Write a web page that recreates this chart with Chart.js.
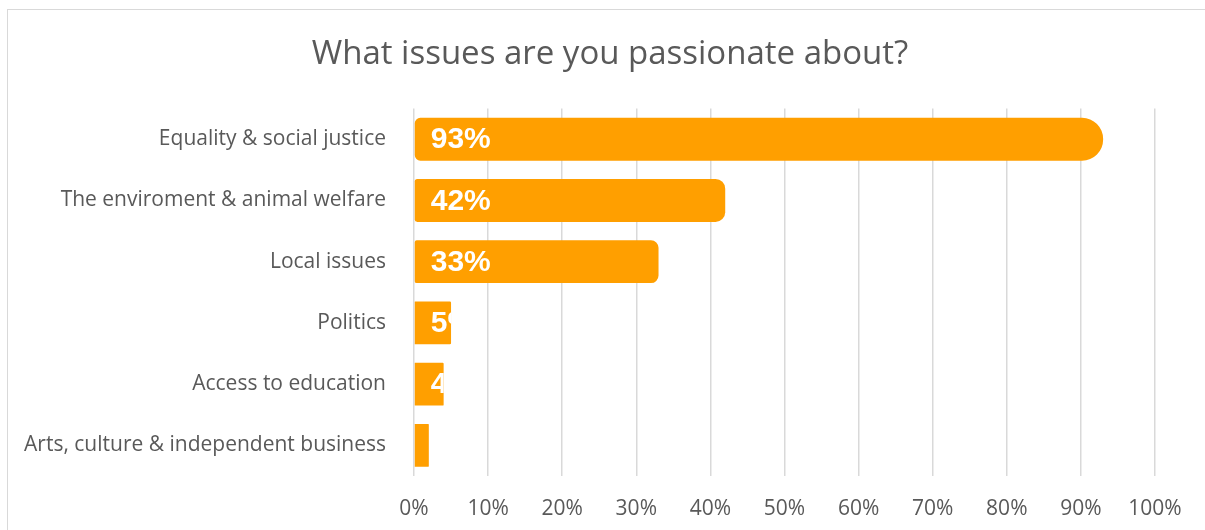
<!DOCTYPE html>
<html>
<head>
<meta charset="utf-8">
<script src="https://cdn.jsdelivr.net/npm/chart.js@4/dist/chart.umd.min.js"></script>
<style>
  html, body { margin: 0; padding: 0; background: #fff; }
  #wrap { position: relative; width: 1205px; height: 530px; overflow: hidden; }
  #frame { position: absolute; left: 7px; top: 9px; width: 1230px; height: 560px;
           border: 1.5px solid #d9d9d9; box-sizing: border-box; }
  #c { position: absolute; left: 0; top: 0; }
</style>
</head>
<body>
<div id="wrap">
  <div id="frame"></div>
  <canvas id="c" width="1205" height="530"></canvas>
</div>
<script>
const categories = [
  'Equality & social justice',
  'The enviroment & animal welfare',
  'Local issues',
  'Politics',
  'Access to education',
  'Arts, culture & independent business'
];
const percentValues = [93, 42, 33, 5, 4, 2];
const tickValues = [0, 10, 20, 30, 40, 50, 60, 70, 80, 90, 100];
const chartTitle = 'What issues are you passionate about?';

const FONT = '"Open Sans", Lato, sans-serif';
const GREY = '#595959';

// White value labels drawn from the start of each bar, clipped to the bar itself
const barValueLabels = {
  id: 'barValueLabels',
  afterDatasetsDraw(chart) {
    const ctx = chart.ctx;
    const meta = chart.getDatasetMeta(0);
    meta.data.forEach((bar, i) => {
      const p = bar.getProps(['x', 'y', 'base', 'height'], true);
      const left = Math.min(p.base, p.x);
      const width = Math.abs(p.x - p.base);
      ctx.save();
      ctx.beginPath();
      ctx.rect(left, p.y - p.height / 2, width, p.height);
      ctx.clip();
      ctx.fillStyle = '#ffffff';
      ctx.font = 'bold 30px "Liberation Sans", Arial, sans-serif';
      ctx.textAlign = 'left';
      ctx.textBaseline = 'middle';
      ctx.fillText(percentValues[i] + '%', left + 16, p.y + 1);
      ctx.restore();
    });
  }
};

// Centre the title over the whole frame rather than the padded layout box
const titleCentering = {
  id: 'titleCentering',
  afterLayout(chart) {
    if (chart.titleBlock) {
      chart.titleBlock.left = 65;
      chart.titleBlock.right = 1155;
    }
  }
};

new Chart(document.getElementById('c'), {
  type: 'bar',
  data: {
    labels: categories,
    datasets: [{
      data: percentValues,
      backgroundColor: '#FF9F00',
      borderSkipped: false,
      borderRadius: (ctx) => {
        const v = ctx.raw || 0;
        const r = Math.min(21, v * 0.23);
        const l = Math.min(6, v * 0.06);
        return { topLeft: l, bottomLeft: l, topRight: r, bottomRight: r };
      },
      barPercentage: 0.7,
      categoryPercentage: 1.0
    }]
  },
  options: {
    indexAxis: 'y',
    responsive: false,
    animation: false,
    layout: { padding: { left: 0, right: 50, top: 0, bottom: 0 } },
    plugins: {
      legend: { display: false },
      tooltip: { enabled: false },
      title: {
        display: true,
        text: chartTitle,
        color: GREY,
        font: { family: FONT, size: 33, weight: 'normal' },
        padding: { top: 35, bottom: 34 }
      }
    },
    scales: {
      x: {
        min: 0,
        max: 100,
        afterBuildTicks: (scale) => { scale.ticks = tickValues.map(v => ({ value: v })); },
        afterFit: (scale) => { scale.height = 54; },
        ticks: {
          color: GREY,
          font: { family: FONT, size: 21 },
          padding: 20,
          callback: (v) => v + '%'
        },
        grid: { color: '#d9d9d9', lineWidth: 1.5, drawTicks: false },
        border: { display: false }
      },
      y: {
        afterFit: (scale) => { scale.width = 414; },
        ticks: {
          color: GREY,
          font: { family: FONT, size: 21 },
          padding: 28
        },
        grid: { display: false, drawTicks: false },
        border: { display: false }
      }
    }
  },
  plugins: [barValueLabels, titleCentering]
});
</script>
</body>
</html>
